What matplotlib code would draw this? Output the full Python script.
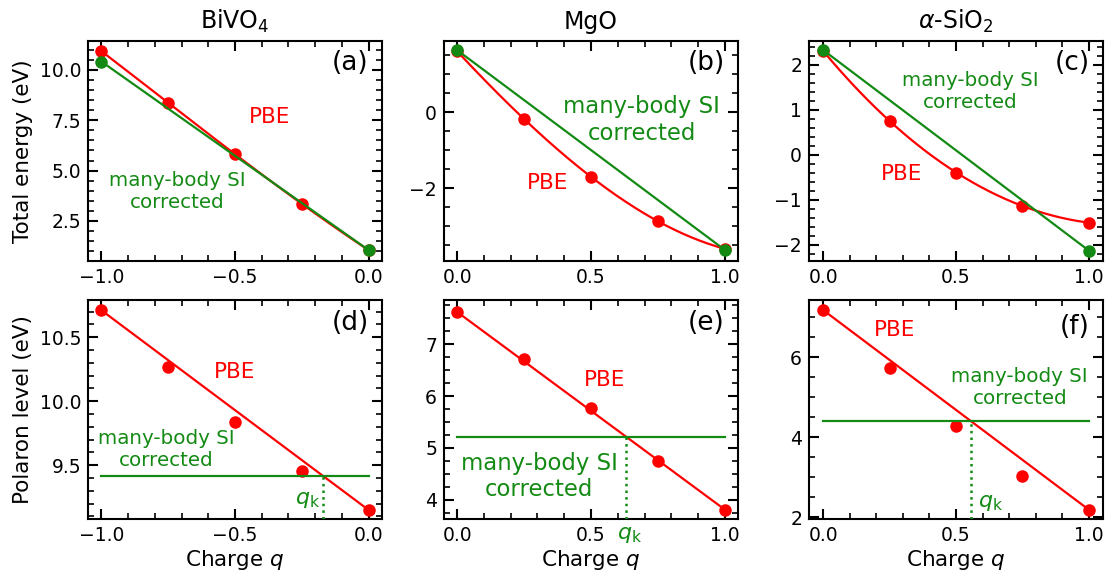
import numpy as np
import matplotlib
matplotlib.use("Agg")
import matplotlib.pyplot as plt
from matplotlib.ticker import MultipleLocator

plt.rcParams['font.family'] = ['DejaVu Sans']
plt.rcParams['mathtext.fontset'] = 'dejavusans'

RED = '#ff0000'
GREEN = '#138a13'

# ---------------- data ----------------
titles = ["BiVO$_4$", "MgO", r"$\alpha$-SiO$_2$"]

# Total energy (top row)
q_bivo4 = [-1.0, -0.75, -0.5, -0.25, 0.0]
E_pbe_bivo4 = [10.94, 8.36, 5.83, 3.34, 1.05]
q_corr_bivo4 = [-1.0, 0.0]
E_corr_bivo4 = [10.42, 1.05]

q_mgo = [0.0, 0.25, 0.5, 0.75, 1.0]
E_pbe_mgo = [1.60, -0.18, -1.71, -2.87, -3.60]
q_corr_mgo = [0.0, 1.0]
E_corr_mgo = [1.63, -3.63]

q_sio2 = [0.0, 0.25, 0.5, 0.75, 1.0]
E_pbe_sio2 = [2.31, 0.76, -0.40, -1.13, -1.51]
q_corr_sio2 = [0.0, 1.0]
E_corr_sio2 = [2.33, -2.13]

# Polaron level (bottom row)
L_pbe_bivo4 = [10.71, 10.27, 9.84, 9.455, 9.15]
L_corr_bivo4 = 9.414
L_pbe_mgo = [7.62, 6.71, 5.77, 4.75, 3.81]
L_corr_mgo = 5.21
L_pbe_sio2 = [7.18, 5.72, 4.28, 3.04, 2.19]
L_corr_sio2 = 4.41

# ---------------- layout ----------------
W, H = 1117, 574
fig = plt.figure(figsize=(W / 100, H / 100), dpi=100)

lefts = [88, 444, 809]
width = 294
top_rows = [(41, 261), (300, 519)]

LABEL_FS = 15.5
TICK_FS = 13.5
MS = 8


def make_ax(col, row):
    t, b = top_rows[row]
    return fig.add_axes([lefts[col] / W, (H - b) / H, width / W, (b - t) / H])


def style(ax, xmaj, xmin, ymaj, ymin):
    ax.xaxis.set_major_locator(MultipleLocator(xmaj))
    ax.xaxis.set_minor_locator(MultipleLocator(xmin))
    ax.yaxis.set_major_locator(MultipleLocator(ymaj))
    ax.yaxis.set_minor_locator(MultipleLocator(ymin))
    ax.tick_params(which='both', direction='in', top=True, right=True,
                   labelsize=TICK_FS)
    ax.tick_params(which='major', length=7, width=1.5, pad=5)
    ax.tick_params(which='minor', length=4, width=1.2)
    for s in ax.spines.values():
        s.set_linewidth(1.5)


def panel_label(ax, lab, y=0.9):
    ax.text(0.955, y, lab, transform=ax.transAxes, ha='right', va='center',
            fontsize=19)


def top_panel(ax, q, E, qc, Ec):
    coef = np.polyfit(q, E, 3)
    qq = np.linspace(min(q), max(q), 200)
    ax.plot(qq, np.polyval(coef, qq), color=RED, lw=1.6, zorder=2)
    ax.plot(q, E, 'o', color=RED, ms=MS, zorder=3)
    ax.plot(qc, Ec, '-', color=GREEN, lw=1.6, zorder=4)
    ax.plot(qc, Ec, 'o', color=GREEN, ms=MS, zorder=5)


def bottom_panel(ax, q, L, Lc):
    ax.plot([q[0], q[-1]], [L[0], L[-1]], color=RED, lw=1.6, zorder=2)
    ax.plot(q, L, 'o', color=RED, ms=MS, zorder=3)
    ax.plot([q[0], q[-1]], [Lc, Lc], color=GREEN, lw=1.6, zorder=4)
    slope = (L[-1] - L[0]) / (q[-1] - q[0])
    qk = q[0] + (Lc - L[0]) / slope
    ax.plot([qk, qk], [ax.get_ylim()[0], Lc], ':', color=GREEN, lw=1.8,
            zorder=4)
    return qk


# (a)
ax = make_ax(0, 0)
top_panel(ax, q_bivo4, E_pbe_bivo4, q_corr_bivo4, E_corr_bivo4)
ax.set_xlim(-1.05, 0.05)
ax.set_ylim(0.51, 11.44)
style(ax, 0.5, 0.1, 2.5, 0.5)
ax.set_ylabel("Total energy (eV)", fontsize=LABEL_FS, labelpad=5)
ax.set_title(titles[0], fontsize=17, pad=9)
ax.text(-0.37, 7.66, "PBE", color=RED, fontsize=15.5, ha='center', va='center')
ax.text(-0.715, 3.98, "many-body SI\ncorrected", color=GREEN, fontsize=14.3,
        ha='center', va='center', multialignment='center')
panel_label(ax, "(a)")

# (b)
ax = make_ax(1, 0)
top_panel(ax, q_mgo, E_pbe_mgo, q_corr_mgo, E_corr_mgo)
ax.set_xlim(-0.049, 1.049)
ax.set_ylim(-3.92, 1.87)
style(ax, 0.5, 0.1, 2, 0.5)
ax.set_title(titles[1], fontsize=17, pad=9)
ax.text(0.336, -1.87, "PBE", color=RED, fontsize=15.5, ha='center', va='center')
ax.text(0.69, -0.21, "many-body SI\ncorrected", color=GREEN, fontsize=16.4,
        ha='center', va='center', multialignment='center')
panel_label(ax, "(b)")

# (c)
ax = make_ax(2, 0)
top_panel(ax, q_sio2, E_pbe_sio2, q_corr_sio2, E_corr_sio2)
ax.set_xlim(-0.053, 1.053)
ax.set_ylim(-2.36, 2.53)
style(ax, 0.5, 0.1, 1, 0.2)
ax.set_title(titles[2], fontsize=17, pad=9)
ax.text(0.297, -0.42, "PBE", color=RED, fontsize=15.5, ha='center', va='center')
ax.text(0.555, 1.41, "many-body SI\ncorrected", color=GREEN, fontsize=14.3,
        ha='center', va='center', multialignment='center')
panel_label(ax, "(c)")

# (d)
ax = make_ax(0, 1)
ax.set_xlim(-1.05, 0.05)
ax.set_ylim(9.08, 10.79)
qk = bottom_panel(ax, q_bivo4, L_pbe_bivo4, L_corr_bivo4)
style(ax, 0.5, 0.1, 0.5, 0.1)
ax.set_ylabel("Polaron level (eV)", fontsize=LABEL_FS, labelpad=5)
ax.set_xlabel("Charge $q$", fontsize=LABEL_FS, labelpad=2)
ax.text(-0.5, 10.23, "PBE", color=RED, fontsize=15.5, ha='center', va='center')
ax.text(-0.757, 9.62, "many-body SI\ncorrected", color=GREEN, fontsize=14.3,
        ha='center', va='center', multialignment='center')
ax.text(qk - 0.06, 9.23, r"$q_\mathrm{k}$", color=GREEN, fontsize=16,
        ha='center', va='center')
panel_label(ax, "(d)", 0.895)

# (e)
ax = make_ax(1, 1)
ax.set_xlim(-0.049, 1.049)
ax.set_ylim(3.63, 7.85)
qk = bottom_panel(ax, q_mgo, L_pbe_mgo, L_corr_mgo)
style(ax, 0.5, 0.1, 1, 0.25)
ax.set_xlabel("Charge $q$", fontsize=LABEL_FS, labelpad=2)
ax.text(0.55, 6.3, "PBE", color=RED, fontsize=15.5, ha='center', va='center')
ax.text(0.306, 4.45, "many-body SI\ncorrected", color=GREEN, fontsize=16.4,
        ha='center', va='center', multialignment='center')
ax.text(qk + 0.01, -0.075, r"$q_\mathrm{k}$", color=GREEN, fontsize=16,
        ha='center', va='center', transform=ax.get_xaxis_transform())
panel_label(ax, "(e)", 0.895)

# (f)
ax = make_ax(2, 1)
ax.set_xlim(-0.053, 1.053)
ax.set_ylim(1.96, 7.43)
qk = bottom_panel(ax, q_sio2, L_pbe_sio2, L_corr_sio2)
style(ax, 0.5, 0.1, 2, 0.5)
ax.set_xlabel("Charge $q$", fontsize=LABEL_FS, labelpad=2)
ax.text(0.27, 6.67, "PBE", color=RED, fontsize=15.5, ha='center', va='center')
ax.text(0.74, 5.245, "many-body SI\ncorrected", color=GREEN, fontsize=14.3,
        ha='center', va='center', multialignment='center')
ax.text(qk + 0.075, 2.37, r"$q_\mathrm{k}$", color=GREEN, fontsize=16,
        ha='center', va='center')
panel_label(ax, "(f)", 0.877)

fig.savefig("out.png", dpi=100)
